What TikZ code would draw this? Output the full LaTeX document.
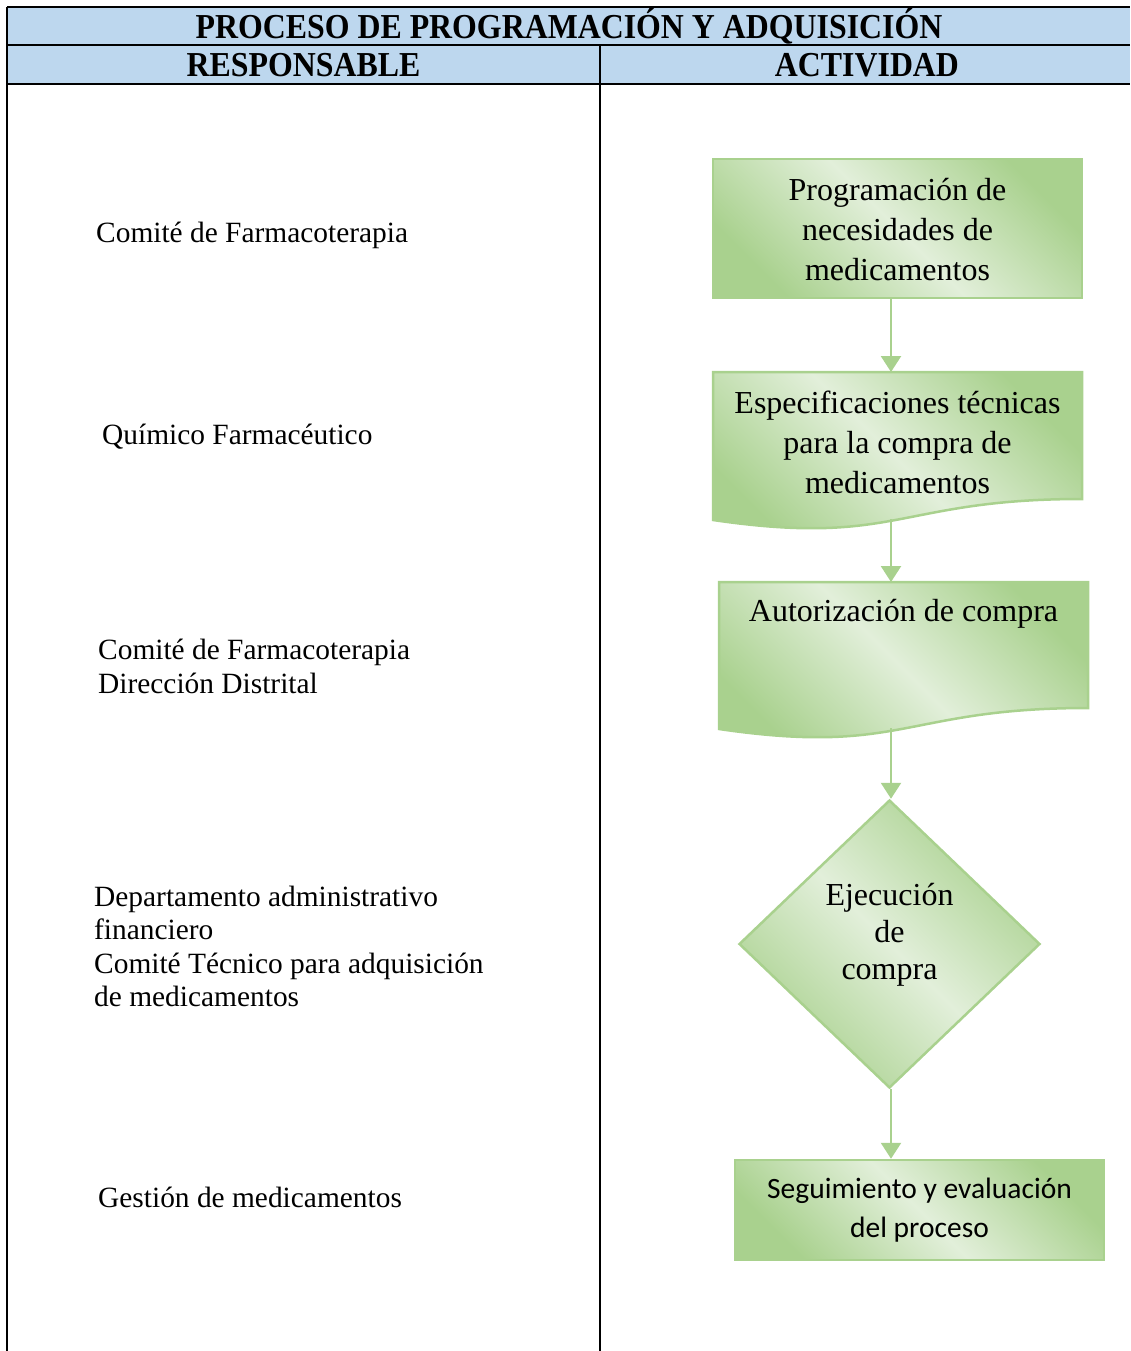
\documentclass[tikz,border=0pt]{standalone}
\usepackage{fontspec}
\usepackage{graphicx}
\setmainfont{Liberation Serif}
\newfontfamily\calib{Carlito}
\usetikzlibrary{shapes.geometric,arrows.meta}
\definecolor{hdr}{HTML}{BDD7EE}
\definecolor{gdark}{HTML}{A9D18E}
\definecolor{glight}{HTML}{E2EFDA}
\definecolor{gline}{HTML}{A9D18E}
\begin{document}
\begin{tikzpicture}[x=1pt,y=-1pt,
  grad/.style={top color=gdark, bottom color=gdark, middle color=glight, shading angle=-45},
  gborder/.style={draw=gline, line width=2.5pt},
  boxtxt/.style={align=center, font=\fontsize{32}{40}\selectfont, inner sep=0pt},
  lefttxt/.style={align=left, anchor=west, font=\fontsize{29.4}{33.5}\selectfont, inner sep=0pt},
  arr/.style={draw=gline, line width=2.5pt, -{Triangle[width=20pt,length=16pt]}},
  tbl/.style={line width=1.8pt, black},
  hdrtxt/.style={font=\bfseries\fontsize{35}{35}\selectfont, inner sep=0pt}
]
\useasboundingbox (0,0) rectangle (1130,1351);
% header
\fill[hdr] (7,7) rectangle (1130,84);
\draw[tbl] (7,7) -- (1130,7);
\draw[tbl] (7,45) -- (1130,45);
\draw[tbl] (7,84) -- (1130,84);
\draw[tbl] (7,7) -- (7,1351);
\draw[tbl] (600,45) -- (600,1351);
\node[hdrtxt] (title) at (569,26) {\scalebox{0.91}[1]{PROCESO DE PROGRAMACIÓN Y ADQUISICIÓN}};
\node[hdrtxt] (resp) at (303.5,65) {\scalebox{0.91}[1]{RESPONSABLE}};
\node[hdrtxt] (act) at (867,65) {\scalebox{0.91}[1]{ACTIVIDAD}};
% left column
\node[lefttxt] (l1) at (96,235) {Comité de Farmacoterapia};
\node[lefttxt] (l2) at (102,437) {Químico Farmacéutico};
\node[lefttxt] (l3) at (98,666.5) {Comité de Farmacoterapia\\Dirección Distrital};
\node[lefttxt] (l4) at (94,946.5) {Departamento administrativo\\financiero\\Comité Técnico para adquisición\\de medicamentos};
\node[lefttxt] (l5) at (98,1197) {Gestión de medicamentos};
% axis for arrows
\coordinate (ax) at (891,0);
% shape 1
\node[grad, gborder, minimum width=369pt, minimum height=139pt, inner sep=0pt] (n1) at (897.5,228.5) {};
\node[boxtxt] (t1) at (897.5,230) {Programación de\\necesidades de\\medicamentos};
% shape 2 (document)
\shadedraw[grad, gborder] (713,372) -- (1082,372) -- (1082,499) .. controls (897.5,499) and (897.5,547) .. (713,520) -- cycle;
\node[boxtxt] (t2) at (897.5,442) {Especificaciones técnicas\\para la compra de\\medicamentos};
\coordinate (n2top) at (891,372);
\coordinate (n2bot) at (891,519);
% shape 3 (document)
\shadedraw[grad, gborder] (719,582) -- (1088,582) -- (1088,708) .. controls (903.5,708) and (903.5,756) .. (719,729) -- cycle;
\node[boxtxt] (t3) at (903.5,614) {Autorización de compra};
\coordinate (n3top) at (891,582);
\coordinate (n3bot) at (891,728);
% diamond
\node[diamond, grad, gborder, minimum width=301pt, minimum height=288pt, inner sep=0pt] (n4) at (889.5,944) {};
\node[boxtxt, font=\fontsize{32}{37}\selectfont] (t4) at (889.5,935) {Ejecución\\de\\compra};
% shape 5
\node[grad, gborder, minimum width=369pt, minimum height=100pt, inner sep=0pt] (n5) at (919.5,1210) {};
\node[boxtxt, font=\calib\fontsize{29.5}{39}\selectfont] (t5) at (919.5,1210) {Seguimiento y evaluación\\del proceso};
% arrows
\draw[arr] (n1.south -| ax) -- (n2top);
\draw[arr] (n2bot) -- (n3top);
\draw[arr] (n3bot) -- (n4.north -| ax);
\draw[arr] (n4.south -| ax) -- (n5.north -| ax);
\end{tikzpicture}
\end{document}
